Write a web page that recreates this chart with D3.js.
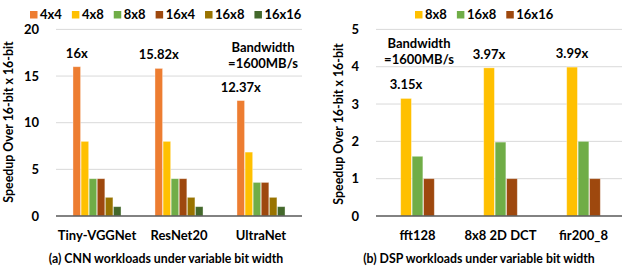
<!DOCTYPE html>
<html><head><meta charset="utf-8">
<script src="https://cdn.jsdelivr.net/npm/d3@7"></script>
<style>
body{margin:0;background:#fff;}
text{font-family:Lato, "Open Sans", sans-serif;font-weight:bold;fill:#000;}
</style></head>
<body><svg id="c" width="622" height="270"></svg>
<script>
// Panel (a) data
const cnnCategories = ["Tiny-VGGNet", "ResNet20", "UltraNet"];
const cnnSeries = ["4x4", "4x8", "8x8", "16x4", "16x8", "16x16"];
const cnnValues = [
  [16, 8, 4, 4, 2, 1],
  [15.82, 8, 4, 4, 2, 1],
  [12.37, 6.85, 3.6, 3.6, 2, 1]
];
const cnnLabels = ["16x", "15.82x", "12.37x"];
const cnnTicks = [0, 5, 10, 15, 20];

// Panel (b) data
const dspCategories = ["fft128", "8x8 2D DCT", "fir200_8"];
const dspSeries = ["8x8", "16x8", "16x16"];
const dspValues = [
  [3.15, 1.6, 1],
  [3.97, 1.98, 1],
  [3.99, 2.0, 1]
];
const dspLabels = ["3.15x", "3.97x", "3.99x"];
const dspTicks = [0, 1, 2, 3, 4, 5];

const colors = {"4x4":"#ED7D31","4x8":"#FFC000","8x8":"#70AD47","16x4":"#9E480E","16x8":"#997300","16x16":"#43682B"};
const dspColors = {"8x8":"#FFC000","16x8":"#70AD47","16x16":"#9E480E"};

const svg = d3.select("#c");
const FS = 13;

function panel(o){
  const g = svg.append("g");
  const x = d3.scaleBand().domain(o.cats).range([o.x0, o.x1]).paddingInner(0).paddingOuter(0);
  const y = d3.scaleLinear().domain([0, o.ymax]).range([o.y0, o.ytop]);
  const inner = d3.scaleBand().domain(o.series).range([0, o.groupW]).padding(o.barPad);
  // gridlines
  g.selectAll(".grid").data(o.ticks.filter(t=>t>0)).join("line")
    .attr("x1", o.x0).attr("x2", o.x1).attr("y1", d=>y(d)).attr("y2", d=>y(d))
    .attr("stroke", "#d9d9d9").attr("stroke-width", 1);
  // y axis labels
  const ya = d3.axisLeft(y).tickValues(o.ticks).tickFormat(d3.format("d")).tickSize(0).tickPadding(o.tickPad);
  const yg = g.append("g").attr("transform", `translate(${o.x0},0)`).call(ya);
  yg.select(".domain").remove();
  yg.selectAll("text").style("font-size", FS+"px").style("font-family","Lato").style("font-weight","bold");
  // bars
  o.cats.forEach((c, i) => {
    const gx = x(c) + (x.bandwidth() - o.groupW)/2;
    g.selectAll(null).data(o.series.map((s,j)=>({s, v:o.values[i][j]}))).join("rect")
      .attr("x", d=>gx + inner(d.s)).attr("width", inner.bandwidth())
      .attr("y", d=>y(d.v)).attr("height", d=>o.y0 - y(d.v))
      .attr("fill", d=>o.colors[d.s])
      .attr("stroke", "rgba(255,255,255,0.45)").attr("stroke-width", 0.8);
    // value label over first bar
    const bx = gx + inner(o.series[0]) + inner.bandwidth()/2;
    g.append("text").attr("x", bx).attr("y", y(o.values[i][0]) - o.labelGap)
      .attr("text-anchor","middle").style("font-size", FS+"px").text(o.labels[i]);
  });
  // baseline
  g.append("line").attr("x1", o.x0).attr("x2", o.x1).attr("y1", o.y0).attr("y2", o.y0)
    .attr("stroke", "#595959").attr("stroke-width", 1.3);
  // x axis labels
  const xa = d3.axisBottom(x).tickSize(0).tickPadding(0);
  const xg = g.append("g").attr("transform", `translate(0,${o.y0})`).call(xa);
  xg.select(".domain").remove();
  xg.selectAll("text").attr("dy", null).attr("y", o.xLabelY - o.y0)
    .style("font-size", FS+"px").style("font-family","Lato").style("font-weight","bold");
  // caption
  g.append("text").attr("x", o.capX).attr("y", 263).attr("text-anchor","middle")
    .style("font-size","12.3px").text(o.caption);
  // y title
  g.append("text").attr("transform", `translate(${o.titleX},${o.titleY}) rotate(-90)`)
    .attr("text-anchor","middle").style("font-size","12.4px").text("Speedup Over 16-bit x 16-bit");
  // bandwidth note
  g.append("text").attr("x", o.bwX).attr("y", o.bwY).attr("text-anchor","middle").style("font-size",FS+"px").text("Bandwidth");
  g.append("text").attr("x", o.bwX).attr("y", o.bwY+16).attr("text-anchor","middle").style("font-size",FS+"px").text("=1600MB/s");
  // legend
  const lg = g.append("g");
  let lx = o.legX;
  o.series.forEach(s=>{
    lg.append("rect").attr("x", lx).attr("y", 11).attr("width", 7.5).attr("height", 7.5).attr("fill", o.colors[s]);
    const t = lg.append("text").attr("x", lx+10).attr("y", 19).style("font-size", FS+"px").text(s);
    lx += 10 + t.node().getComputedTextLength() + o.legGap;
  });
}

panel({cats:cnnCategories, series:cnnSeries, values:cnnValues, labels:cnnLabels, ticks:cnnTicks,
  colors, x0:56, x1:302, y0:216, ytop:29.4, ymax:20, groupW:49, barPad:0.06,
  tickPad:17, labelGap:9, xLabelY:240, capX:166, caption:"(a) CNN workloads under variable bit width",
  titleX:13, titleY:122, bwX:263, bwY:52, legX:30, legGap:10});

panel({cats:dspCategories, series:dspSeries, values:dspValues, labels:dspLabels, ticks:dspTicks,
  colors:dspColors, x0:376, x1:625, y0:216, ytop:29.4, ymax:5, groupW:35, barPad:0.06,
  tickPad:17, labelGap:9, xLabelY:240, capX:479, caption:"(b) DSP workloads under variable bit width",
  titleX:343, titleY:124, bwX:419, bwY:48, legX:415, legGap:10});
</script></body></html>
